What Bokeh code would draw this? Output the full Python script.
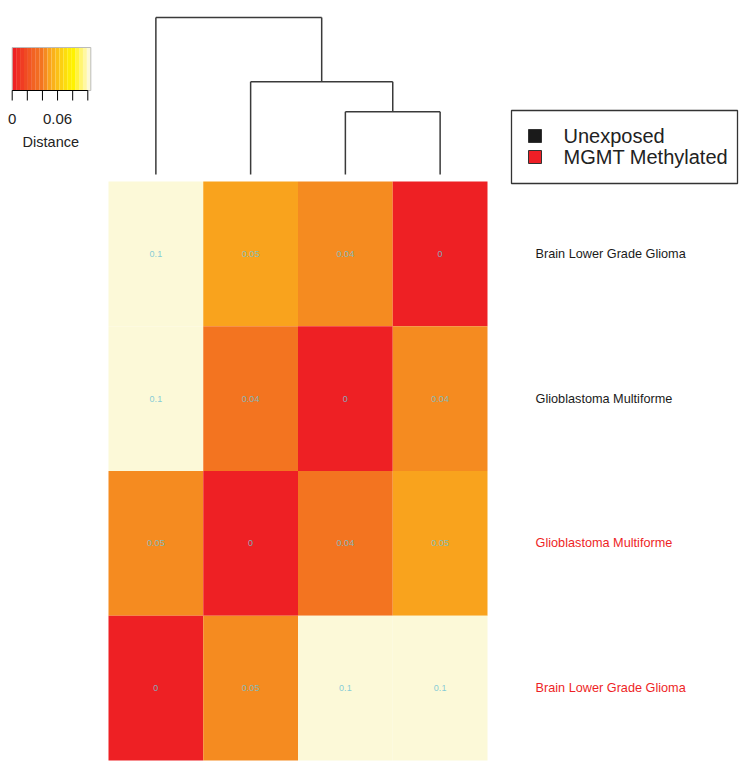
from bokeh.plotting import figure
from bokeh.models import Range1d, ColumnDataSource, LinearColorMapper
from bokeh.transform import transform
from bokeh.core.properties import value
from bokeh.embed import file_html
from bokeh.resources import INLINE

# ---------------- data ----------------
row_labels = ["Brain Lower Grade Glioma", "Glioblastoma Multiforme",
              "Glioblastoma Multiforme", "Brain Lower Grade Glioma"]
row_groups = ["Unexposed", "Unexposed", "MGMT Methylated", "MGMT Methylated"]
dist_values = [
    [0.100, 0.050, 0.045, 0.000],
    [0.100, 0.040, 0.000, 0.045],
    [0.045, 0.000, 0.040, 0.050],
    [0.000, 0.045, 0.100, 0.100],
]
cell_labels = [
    ["0.1", "0.05", "0.04", "0"],
    ["0.1", "0.04", "0", "0.04"],
    ["0.05", "0", "0.04", "0.05"],
    ["0", "0.05", "0.1", "0.1"],
]
# dendrogram over columns: (left child, right child, height); leaves 0..3, merges 4..
dendro_merges = [(2, 3, 0.040), (1, 4, 0.059), (0, 5, 0.100)]
key_ticks = [0, 0.02, 0.04, 0.06, 0.08, 0.1]
key_tick_labels = {0: "0", 0.06: "0.06"}
legend_groups = ["Unexposed", "MGMT Methylated"]
group_colors = {"Unexposed": "#1a1a1a", "MGMT Methylated": "#EE1F26"}

# ---------------- style ----------------
FONT = value("Liberation Sans")
palette = ["#EE2024", "#EF2E24", "#F03C23", "#F04A23", "#F15722", "#F26322",
           "#F26C21", "#F37420", "#F58B20", "#F9A31D", "#FAB11A", "#FBC016",
           "#FCCF12", "#FDDD0D", "#FEEA08", "#FFF200", "#FFF33F", "#FFF572",
           "#FFF8A3", "#FCF9D8"]
low, high = 0.0, 0.104
mapper = LinearColorMapper(palette=palette, low=low, high=high)

W, H = 745, 766
colpx, rowpx = 94.75, 144.75
hx0 = 108            # heatmap left edge (px from left)
hy_bottom = H - 760  # heatmap bottom edge (px from bottom)
p = figure(width=W, height=H, output_backend="svg", toolbar_location=None,
           x_range=Range1d(-hx0 / colpx, (W - hx0) / colpx),
           y_range=Range1d(-hy_bottom / rowpx, (H - hy_bottom) / rowpx),
           min_border=0, outline_line_color=None)
p.axis.visible = False
p.grid.visible = False
dpx = 1570.0
leaf_from_bottom = H - 174
p.extra_y_ranges = {
    "dist": Range1d(-leaf_from_bottom / dpx, (H - leaf_from_bottom) / dpx),
    "py": Range1d(H, 0),
}
cbpx = 756.0
cb0 = 11.7
p.extra_x_ranges = {
    "cb": Range1d(-cb0 / cbpx, (W - cb0) / cbpx),
    "px": Range1d(0, W),
}

# ---------------- heatmap ----------------
n = len(row_labels)
xs, ys, vals, labs = [], [], [], []
for r in range(n):
    for c in range(len(dist_values[r])):
        xs.append(c + 0.5)
        ys.append(n - r - 0.5)
        vals.append(dist_values[r][c])
        labs.append(cell_labels[r][c])
src = ColumnDataSource(dict(x=xs, y=ys, v=vals, lab=labs))
p.rect("x", "y", width=1, height=1, source=src,
       fill_color=transform("v", mapper), line_color=None)
p.text("x", "y", text="lab", source=src, text_align="center",
       text_baseline="middle", text_font_size="9px", text_font=FONT,
       text_color="#6FC3D6", text_alpha=0.85)

# row labels
lsrc = ColumnDataSource(dict(x=[4.507] * n, y=[n - r - 0.5 for r in range(n)],
                             t=row_labels,
                             col=[group_colors[g] for g in row_groups]))
p.text("x", "y", text="t", source=lsrc, text_color="col", text_align="left",
       text_baseline="middle", text_font_size="12.7px", text_font=FONT)

# ---------------- dendrogram ----------------
pos = {i: i + 0.5 for i in range(4)}
hgt = {i: 0.0 for i in range(4)}
x0s, y0s, x1s, y1s = [], [], [], []
for k, (a, b, h) in enumerate(dendro_merges):
    idx = 4 + k
    for ch in (a, b):
        x0s.append(pos[ch]); y0s.append(hgt[ch]); x1s.append(pos[ch]); y1s.append(h)
    x0s.append(pos[a]); y0s.append(h); x1s.append(pos[b]); y1s.append(h)
    pos[idx] = (pos[a] + pos[b]) / 2
    hgt[idx] = h
p.segment(x0s, y0s, x1s, y1s, y_range_name="dist", line_color="#3a3a3a",
          line_width=1.5)

# ---------------- colour key ----------------
kt, kb = 47, 90
step = (high - low) / len(palette)
p.quad(left=[low + i * step for i in range(len(palette))],
       right=[low + (i + 1) * step for i in range(len(palette))],
       top=[kt] * len(palette), bottom=[kb] * len(palette),
       fill_color=palette, line_color=None,
       x_range_name="cb", y_range_name="py")
p.quad(left=[low], right=[high], top=[kt], bottom=[kb], fill_color=None,
       line_color="#bbbbbb", line_width=1, x_range_name="cb", y_range_name="py")
p.segment([key_ticks[0]], [kb], [key_ticks[-1]], [kb], line_color="black",
          line_width=1, x_range_name="cb", y_range_name="py")
p.segment(key_ticks, [kb] * len(key_ticks), key_ticks, [kb + 10] * len(key_ticks),
          line_color="black", line_width=1, x_range_name="cb", y_range_name="py")
tk = list(key_tick_labels.keys())
p.text(tk, [118] * len(tk), text=[key_tick_labels[t] for t in tk],
       text_align="center", text_baseline="middle", text_font_size="15px",
       text_font=FONT, text_color="#222222", x_range_name="cb", y_range_name="py")
p.text([0.0511], [141], text=["Distance"], text_align="center",
       text_baseline="middle", text_font_size="14.5px", text_font=FONT,
       text_color="#222222", x_range_name="cb", y_range_name="py")

# ---------------- legend ----------------
p.quad(left=[511], right=[737], top=[110], bottom=[183], fill_color="white",
       line_color="#333333", line_width=1.3, x_range_name="px", y_range_name="py")
ly = [135.5, 156.5]
p.rect([534.5] * 2, ly, width=13, height=13,
       fill_color=[group_colors[g] for g in legend_groups],
       line_color="#333333", line_width=1, x_range_name="px", y_range_name="py")
p.text([563] * 2, ly, text=legend_groups, text_align="left",
       text_baseline="middle", text_font_size="20px", text_font=FONT,
       text_color="#222222", x_range_name="px", y_range_name="py")

open("out.html", "w").write(file_html(p, INLINE))
